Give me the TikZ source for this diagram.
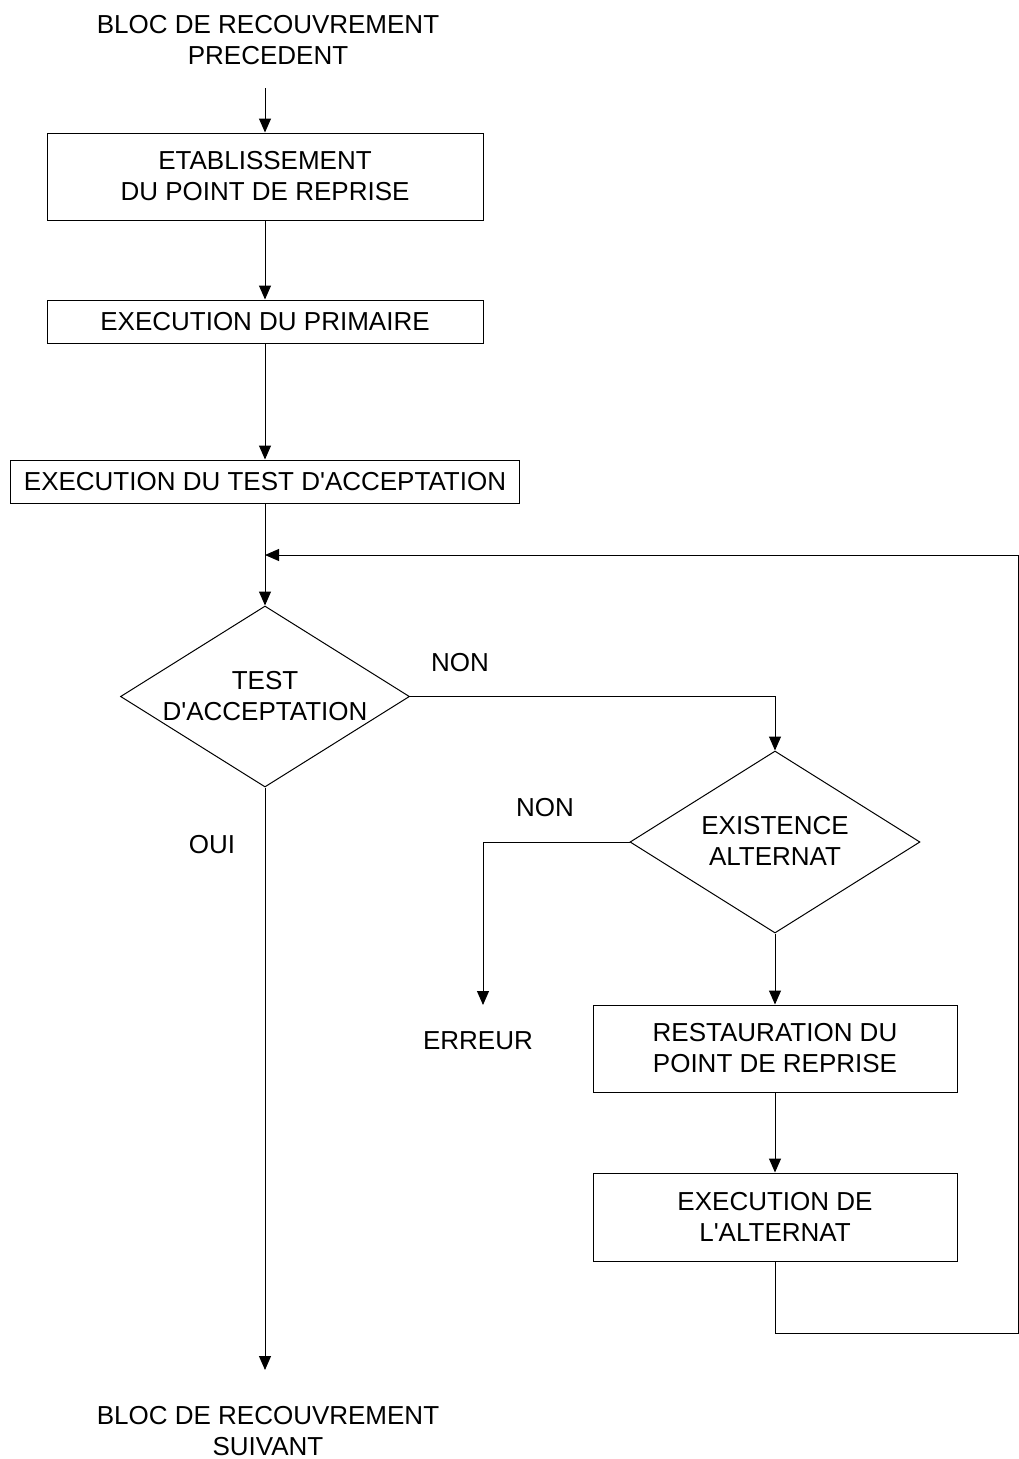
\documentclass[tikz,border=0pt]{standalone}
\usepackage{fontspec}
\setmainfont{Liberation Sans}[Ligatures=TeXOff]
\usetikzlibrary{arrows.meta,shapes.geometric}

\begin{document}
\begin{tikzpicture}[x=1pt,y=-1pt,
  every node/.style={font=\fontsize{26}{31}\selectfont, align=center, inner sep=0pt},
  box/.style={draw, line width=1pt, rectangle},
  decision/.style={draw, line width=1pt, diamond},
  flow/.style={line width=1pt, -{Triangle[width=12pt,length=14pt]}}]
\useasboundingbox (0,0) rectangle (1019,1459);

% main column
\node (start) at (268,40) {BLOC DE RECOUVREMENT\\PRECEDENT};
\coordinate (s0) at (265,88);
\node[box, minimum width=436, minimum height=87] (etab) at (265,176.5) {ETABLISSEMENT\\DU POINT DE REPRISE};
\node[box, minimum width=436, minimum height=43] (prim) at (265,321.5) {EXECUTION DU PRIMAIRE};
\node[box, minimum width=509, minimum height=43] (exta) at (265,481.5) {EXECUTION DU TEST D'ACCEPTATION};
\node[decision, minimum width=289, minimum height=181] (ta) at (265,696.5) {};
\node (tatext) at (265,696) {TEST\\D'ACCEPTATION};
\coordinate (join) at (265,555);
\coordinate (end0) at (265,1370);
\node (fin) at (268,1431) {BLOC DE RECOUVREMENT\\SUIVANT};

% alternate branch
\node[decision, minimum width=290, minimum height=182] (ex) at (775,842) {};
\node (extext) at (775,841) {EXISTENCE\\ALTERNAT};
\node[box, minimum width=364, minimum height=87] (rest) at (775,1048.5) {RESTAURATION DU\\POINT DE REPRISE};
\node[box, minimum width=364, minimum height=88] (alt) at (775,1217) {EXECUTION DE\\L'ALTERNAT};
\coordinate (err0) at (483,1005);
\node (err) at (478,1041) {ERREUR};
\coordinate (rb) at (1018,1333);
\coordinate (rt) at (1018,555);

% branch labels
\node (non1) at (460,663) {NON};
\node (non2) at (545,808) {NON};
\node (oui) at (212,845) {OUI};

% connectors
\draw[flow] (s0) -- (etab.north);
\draw[flow] (etab) -- (prim);
\draw[flow] (prim) -- (exta);
\draw[flow] (exta) -- (ta.north);
\draw[flow] (ta.south) -- (end0);
\draw[flow] (ta.east) -| (ex.north);
\draw[flow] (ex.west) -| (err0);
\draw[flow] (ex.south) -- (rest.north);
\draw[flow] (rest) -- (alt);
\draw[flow] (alt.south) |- (rb) -- (rt) -- (join);
\end{tikzpicture}
\end{document}
